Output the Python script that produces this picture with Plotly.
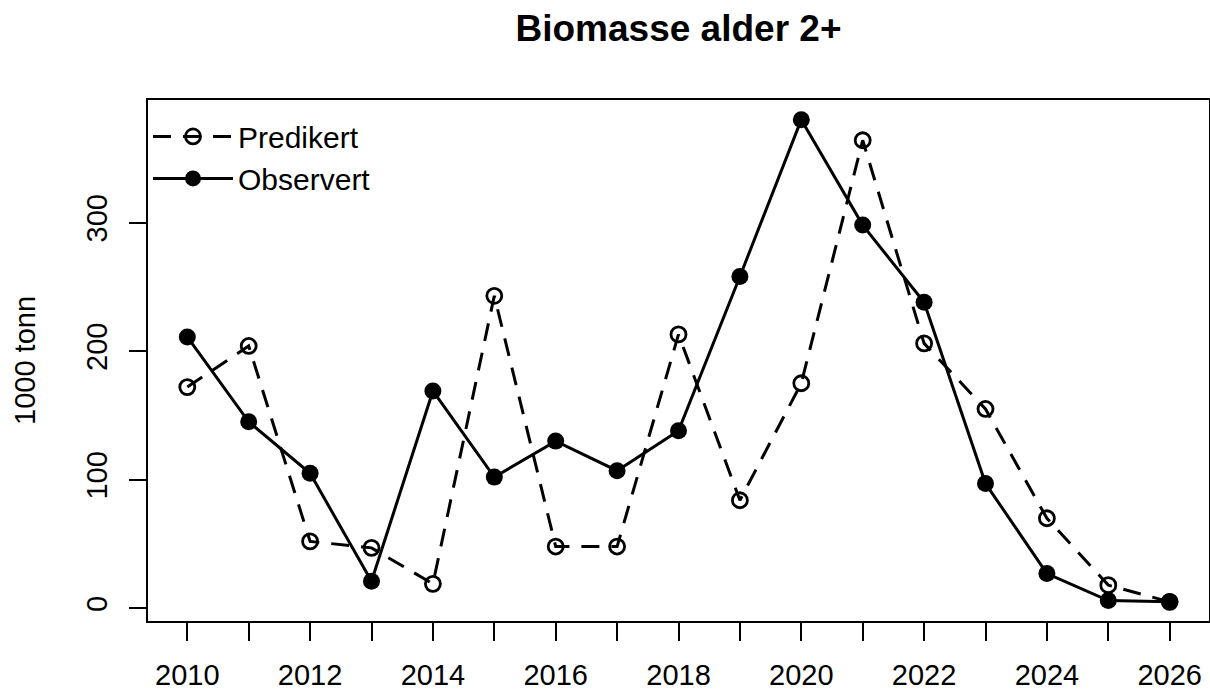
import plotly.graph_objects as go

years = list(range(2010, 2027))
predikert = [172, 204, 52, 47, 19, 243, 48, 48, 213, 84, 175, 364, 206, 155, 70, 18, 5]
observert = [211, 145, 105, 21, 169, 102, 130, 107, 138, 258, 380, 298, 238, 97, 27, 6, 5]

x_tick_vals = years
x_tick_text = [str(y) if y % 2 == 0 else "" for y in years]
y_tick_vals = [0, 100, 200, 300]
y_tick_text = ["0", "100", "200", "300"]

title_text = "Biomasse alder 2+"
y_title = "1000 tonn"
FONT = "Liberation Sans, Arial, sans-serif"

fig = go.Figure()
fig.add_trace(go.Scatter(
    x=years, y=predikert, name="Predikert", mode="lines+markers",
    line=dict(color="black", width=3, dash="18px,12px"),
    marker=dict(symbol="circle-open", size=15, color="black", line=dict(width=2.8, color="black")),
))
fig.add_trace(go.Scatter(
    x=years, y=observert, name="Observert", mode="lines+markers",
    line=dict(color="black", width=3),
    marker=dict(symbol="circle", size=17, color="black"),
))

fig.update_layout(
    width=1210, height=690,
    margin=dict(l=148, r=1, t=100, b=69),
    paper_bgcolor="white", plot_bgcolor="white",
    font=dict(family=FONT, size=29, color="black"),
    title=dict(text="<b>" + title_text + "</b>", font=dict(size=37, family=FONT, color="black"),
               x=0.5, xref="paper", xanchor="center", y=1 - 28 / 690, yref="container", yanchor="middle"),
    showlegend=True,
    legend=dict(x=0.0, y=0.98, xanchor="left", yanchor="top", bgcolor="rgba(0,0,0,0)",
                borderwidth=0, font=dict(size=30, family=FONT), tracegroupgap=0,
                itemwidth=80),
    xaxis=dict(range=[2009.36, 2026.64], tickmode="array", tickvals=x_tick_vals, ticktext=x_tick_text,
               ticks="outside", ticklen=18, tickwidth=1.5, tickcolor="black",
               showline=True, linewidth=2, linecolor="black", mirror=True,
               showgrid=False, zeroline=False, ticklabelstandoff=9, automargin=False,
               tickfont=dict(size=29, family=FONT)),
    yaxis=dict(range=[-9.9, 395.3], tickmode="array", tickvals=y_tick_vals, ticktext=y_tick_text,
               ticks="outside", ticklen=17, tickwidth=1.5, tickcolor="black",
               showline=True, linewidth=2, linecolor="black", mirror=True,
               showgrid=False, zeroline=False, tickangle=-90, ticklabelstandoff=10, automargin=False,
               tickfont=dict(size=29, family=FONT),
               title=dict(text=y_title, font=dict(size=29, family=FONT), standoff=37)),
)

fig.write_html(
    "out.html",
    config={"displayModeBar": False},
    post_script="document.body.style.margin='0';document.body.style.padding='0';document.body.style.overflow='hidden';",
)
